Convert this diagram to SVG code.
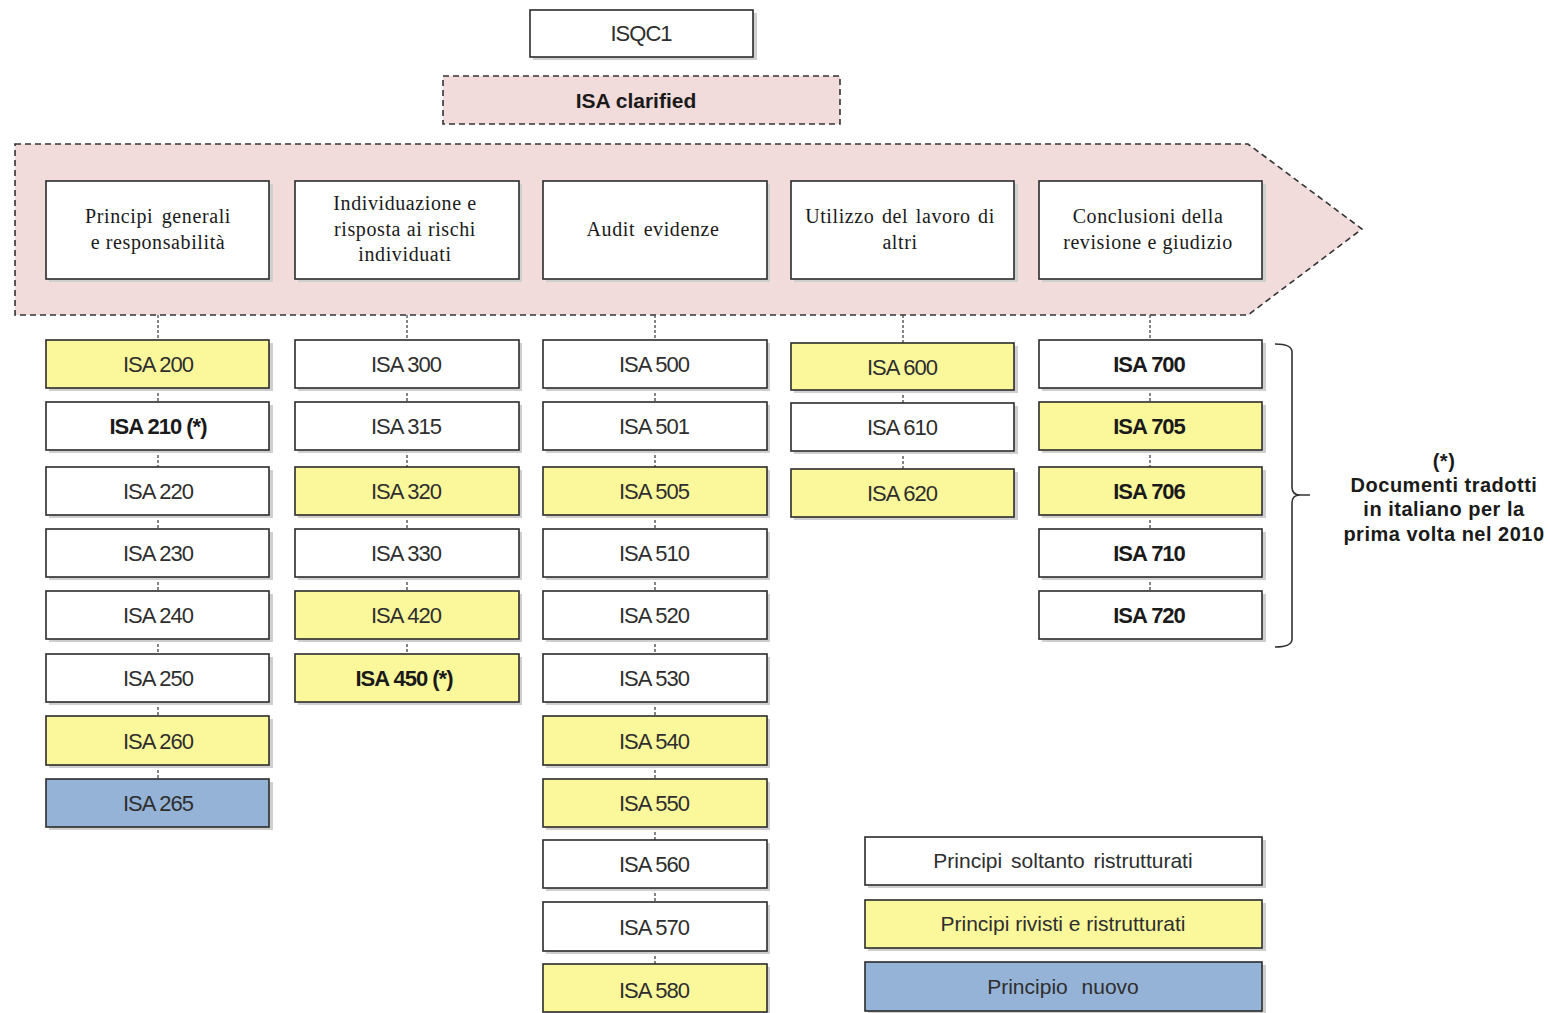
<svg xmlns="http://www.w3.org/2000/svg" width="1550" height="1013" viewBox="0 0 1550 1013">
  <defs>
    <style>
      .box { stroke: #2b2b2b; stroke-width: 1.6; }
      .shadow { fill: #cfcfcf; }
      .w { fill: #ffffff; }
      .y { fill: #fbf89c; }
      .b { fill: #95b3d7; }
      .pink { fill: #f2dcdb; stroke: #333; stroke-width: 1.6; stroke-dasharray: 6 4; }
      .isa { font-family: "Liberation Sans", Arial, sans-serif; font-size: 22px; fill: #2e2e2e; text-anchor: middle; letter-spacing: -1px; }
      .bold { font-weight: bold; fill: #1a1a1a; }
      .hdr { font-family: "Liberation Serif", "Times New Roman", serif; font-size: 20px; fill: #1a1a1a; text-anchor: middle; letter-spacing: 0.6px; }
      .note { font-family: "Liberation Sans", Arial, sans-serif; font-size: 20px; font-weight: bold; fill: #1a1a1a; text-anchor: middle; letter-spacing: 0.5px; }
      .legend { font-family: "Liberation Sans", Arial, sans-serif; font-size: 21px; fill: #2e2e2e; text-anchor: middle; }
      .conn { stroke: #444; stroke-width: 1.3; stroke-dasharray: 3 2; fill: none; }
    </style>
  </defs>

  <rect width="1550" height="1013" fill="#ffffff"/>

  <!-- top nodes -->
  <g id="isqc1">
    <rect class="shadow" x="533" y="13" width="224" height="47"/>
    <rect class="box w" x="530" y="10" width="223" height="47"/>
    <text class="isa" x="641" y="41">ISQC1</text>
  </g>
  <g id="isa-clarified">
    <rect class="pink" x="443" y="76" width="397" height="48"/>
    <text class="isa bold" x="636" y="108" style="font-size:21px;letter-spacing:0">ISA clarified</text>
  </g>

  <!-- process band -->
  <g id="band">
    <path class="pink" d="M15 144 L1248 144 L1362 229 L1248 315 L15 315 Z"/>
  </g>

  <!-- connectors -->
  <g id="connectors">
    <line class="conn" x1="158" y1="315" x2="158" y2="340"/>
    <line class="conn" x1="158" y1="388" x2="158" y2="402"/>
    <line class="conn" x1="158" y1="450" x2="158" y2="467"/>
    <line class="conn" x1="158" y1="515" x2="158" y2="529"/>
    <line class="conn" x1="158" y1="577" x2="158" y2="591"/>
    <line class="conn" x1="158" y1="639" x2="158" y2="654"/>
    <line class="conn" x1="158" y1="702" x2="158" y2="716"/>
    <line class="conn" x1="158" y1="765" x2="158" y2="779"/>

    <line class="conn" x1="407" y1="315" x2="407" y2="340"/>
    <line class="conn" x1="407" y1="388" x2="407" y2="402"/>
    <line class="conn" x1="407" y1="450" x2="407" y2="467"/>
    <line class="conn" x1="407" y1="515" x2="407" y2="529"/>
    <line class="conn" x1="407" y1="577" x2="407" y2="591"/>
    <line class="conn" x1="407" y1="639" x2="407" y2="654"/>

    <line class="conn" x1="655" y1="315" x2="655" y2="340"/>
    <line class="conn" x1="655" y1="388" x2="655" y2="402"/>
    <line class="conn" x1="655" y1="450" x2="655" y2="467"/>
    <line class="conn" x1="655" y1="515" x2="655" y2="529"/>
    <line class="conn" x1="655" y1="577" x2="655" y2="591"/>
    <line class="conn" x1="655" y1="639" x2="655" y2="654"/>
    <line class="conn" x1="655" y1="702" x2="655" y2="716"/>
    <line class="conn" x1="655" y1="765" x2="655" y2="779"/>
    <line class="conn" x1="655" y1="827" x2="655" y2="840"/>
    <line class="conn" x1="655" y1="888" x2="655" y2="902"/>
    <line class="conn" x1="655" y1="951" x2="655" y2="964"/>

    <line class="conn" x1="903" y1="315" x2="903" y2="343"/>
    <line class="conn" x1="903" y1="390" x2="903" y2="403"/>
    <line class="conn" x1="903" y1="451" x2="903" y2="469"/>

    <line class="conn" x1="1150" y1="315" x2="1150" y2="340"/>
    <line class="conn" x1="1150" y1="388" x2="1150" y2="402"/>
    <line class="conn" x1="1150" y1="450" x2="1150" y2="467"/>
    <line class="conn" x1="1150" y1="515" x2="1150" y2="529"/>
    <line class="conn" x1="1150" y1="577" x2="1150" y2="591"/>
  </g>

  <!-- phase headers -->
  <g id="hdr-principi">
    <rect class="shadow" x="49" y="184" width="224" height="98"/>
    <rect class="box w" x="46" y="181" width="223" height="98"/>
    <text class="hdr" x="158" y="223" style="word-spacing:3px">Principi generali</text>
    <text class="hdr" x="158" y="249">e responsabilità</text>
  </g>
  <g id="hdr-rischi">
    <rect class="shadow" x="298" y="184" width="224" height="98"/>
    <rect class="box w" x="295" y="181" width="224" height="98"/>
    <text class="hdr" x="405" y="210">Individuazione e</text>
    <text class="hdr" x="405" y="236">risposta ai rischi</text>
    <text class="hdr" x="405" y="261">individuati</text>
  </g>
  <g id="hdr-evidenze">
    <rect class="shadow" x="546" y="184" width="224" height="98"/>
    <rect class="box w" x="543" y="181" width="224" height="98"/>
    <text class="hdr" x="653" y="236" style="word-spacing:3px">Audit evidenze</text>
  </g>
  <g id="hdr-altri">
    <rect class="shadow" x="794" y="184" width="224" height="98"/>
    <rect class="box w" x="791" y="181" width="223" height="98"/>
    <text class="hdr" x="900" y="223" style="word-spacing:2px">Utilizzo del lavoro di</text>
    <text class="hdr" x="900" y="249">altri</text>
  </g>
  <g id="hdr-conclusioni">
    <rect class="shadow" x="1042" y="184" width="224" height="98"/>
    <rect class="box w" x="1039" y="181" width="223" height="98"/>
    <text class="hdr" x="1148" y="223">Conclusioni della</text>
    <text class="hdr" x="1148" y="249">revisione e giudizio</text>
  </g>

  <!-- column 1 -->
  <g id="isa200"><rect class="shadow" x="49" y="343" width="224" height="48"/><rect class="box y" x="46" y="340" width="223" height="48"/><text class="isa" x="158" y="372">ISA 200</text></g>
  <g id="isa210"><rect class="shadow" x="49" y="405" width="224" height="48"/><rect class="box w" x="46" y="402" width="223" height="48"/><text class="isa bold" x="158" y="434">ISA 210  (*)</text></g>
  <g id="isa220"><rect class="shadow" x="49" y="470" width="224" height="48"/><rect class="box w" x="46" y="467" width="223" height="48"/><text class="isa" x="158" y="499">ISA 220</text></g>
  <g id="isa230"><rect class="shadow" x="49" y="532" width="224" height="48"/><rect class="box w" x="46" y="529" width="223" height="48"/><text class="isa" x="158" y="561">ISA 230</text></g>
  <g id="isa240"><rect class="shadow" x="49" y="594" width="224" height="48"/><rect class="box w" x="46" y="591" width="223" height="48"/><text class="isa" x="158" y="623">ISA 240</text></g>
  <g id="isa250"><rect class="shadow" x="49" y="657" width="224" height="48"/><rect class="box w" x="46" y="654" width="223" height="48"/><text class="isa" x="158" y="686">ISA 250</text></g>
  <g id="isa260"><rect class="shadow" x="49" y="719" width="224" height="49"/><rect class="box y" x="46" y="716" width="223" height="49"/><text class="isa" x="158" y="749">ISA 260</text></g>
  <g id="isa265"><rect class="shadow" x="49" y="782" width="224" height="48"/><rect class="box b" x="46" y="779" width="223" height="48"/><text class="isa" x="158" y="811">ISA 265</text></g>

  <!-- column 2 -->
  <g id="isa300"><rect class="shadow" x="298" y="343" width="224" height="48"/><rect class="box w" x="295" y="340" width="224" height="48"/><text class="isa" x="406" y="372">ISA 300</text></g>
  <g id="isa315"><rect class="shadow" x="298" y="405" width="224" height="48"/><rect class="box w" x="295" y="402" width="224" height="48"/><text class="isa" x="406" y="434">ISA 315</text></g>
  <g id="isa320"><rect class="shadow" x="298" y="470" width="224" height="48"/><rect class="box y" x="295" y="467" width="224" height="48"/><text class="isa" x="406" y="499">ISA 320</text></g>
  <g id="isa330"><rect class="shadow" x="298" y="532" width="224" height="48"/><rect class="box w" x="295" y="529" width="224" height="48"/><text class="isa" x="406" y="561">ISA 330</text></g>
  <g id="isa420"><rect class="shadow" x="298" y="594" width="224" height="48"/><rect class="box y" x="295" y="591" width="224" height="48"/><text class="isa" x="406" y="623">ISA 420</text></g>
  <g id="isa450"><rect class="shadow" x="298" y="657" width="224" height="48"/><rect class="box y" x="295" y="654" width="224" height="48"/><text class="isa bold" x="404" y="686">ISA 450  (*)</text></g>

  <!-- column 3 -->
  <g id="isa500"><rect class="shadow" x="546" y="343" width="224" height="48"/><rect class="box w" x="543" y="340" width="224" height="48"/><text class="isa" x="654" y="372">ISA 500</text></g>
  <g id="isa501"><rect class="shadow" x="546" y="405" width="224" height="48"/><rect class="box w" x="543" y="402" width="224" height="48"/><text class="isa" x="654" y="434">ISA 501</text></g>
  <g id="isa505"><rect class="shadow" x="546" y="470" width="224" height="48"/><rect class="box y" x="543" y="467" width="224" height="48"/><text class="isa" x="654" y="499">ISA 505</text></g>
  <g id="isa510"><rect class="shadow" x="546" y="532" width="224" height="48"/><rect class="box w" x="543" y="529" width="224" height="48"/><text class="isa" x="654" y="561">ISA 510</text></g>
  <g id="isa520"><rect class="shadow" x="546" y="594" width="224" height="48"/><rect class="box w" x="543" y="591" width="224" height="48"/><text class="isa" x="654" y="623">ISA 520</text></g>
  <g id="isa530"><rect class="shadow" x="546" y="657" width="224" height="48"/><rect class="box w" x="543" y="654" width="224" height="48"/><text class="isa" x="654" y="686">ISA 530</text></g>
  <g id="isa540"><rect class="shadow" x="546" y="719" width="224" height="49"/><rect class="box y" x="543" y="716" width="224" height="49"/><text class="isa" x="654" y="749">ISA 540</text></g>
  <g id="isa550"><rect class="shadow" x="546" y="782" width="224" height="48"/><rect class="box y" x="543" y="779" width="224" height="48"/><text class="isa" x="654" y="811">ISA 550</text></g>
  <g id="isa560"><rect class="shadow" x="546" y="843" width="224" height="48"/><rect class="box w" x="543" y="840" width="224" height="48"/><text class="isa" x="654" y="872">ISA 560</text></g>
  <g id="isa570"><rect class="shadow" x="546" y="905" width="224" height="49"/><rect class="box w" x="543" y="902" width="224" height="49"/><text class="isa" x="654" y="935">ISA 570</text></g>
  <g id="isa580"><rect class="shadow" x="546" y="967" width="224" height="48"/><rect class="box y" x="543" y="964" width="224" height="48"/><text class="isa" x="654" y="998">ISA 580</text></g>

  <!-- column 4 -->
  <g id="isa600"><rect class="shadow" x="794" y="346" width="224" height="47"/><rect class="box y" x="791" y="343" width="223" height="47"/><text class="isa" x="902" y="375">ISA 600</text></g>
  <g id="isa610"><rect class="shadow" x="794" y="406" width="224" height="48"/><rect class="box w" x="791" y="403" width="223" height="48"/><text class="isa" x="902" y="435">ISA 610</text></g>
  <g id="isa620"><rect class="shadow" x="794" y="472" width="224" height="48"/><rect class="box y" x="791" y="469" width="223" height="48"/><text class="isa" x="902" y="501">ISA 620</text></g>

  <!-- column 5 -->
  <g id="isa700"><rect class="shadow" x="1042" y="343" width="224" height="48"/><rect class="box w" x="1039" y="340" width="223" height="48"/><text class="isa bold" x="1149" y="372">ISA 700</text></g>
  <g id="isa705"><rect class="shadow" x="1042" y="405" width="224" height="48"/><rect class="box y" x="1039" y="402" width="223" height="48"/><text class="isa bold" x="1149" y="434">ISA 705</text></g>
  <g id="isa706"><rect class="shadow" x="1042" y="470" width="224" height="48"/><rect class="box y" x="1039" y="467" width="223" height="48"/><text class="isa bold" x="1149" y="499">ISA 706</text></g>
  <g id="isa710"><rect class="shadow" x="1042" y="532" width="224" height="48"/><rect class="box w" x="1039" y="529" width="223" height="48"/><text class="isa bold" x="1149" y="561">ISA 710</text></g>
  <g id="isa720"><rect class="shadow" x="1042" y="594" width="224" height="48"/><rect class="box w" x="1039" y="591" width="223" height="48"/><text class="isa bold" x="1149" y="623">ISA 720</text></g>

  <!-- bracket and footnote -->
  <g id="footnote">
    <path d="M1275 344 Q1292 344 1292 352 L1292 487 Q1292 495 1300 495 L1310 495 M1300 495 Q1292 495 1292 503 L1292 639 Q1292 647 1275 647" fill="none" stroke="#333" stroke-width="1.6"/>
    <text class="note" x="1444" y="468">(*)</text>
    <text class="note" x="1444" y="492">Documenti tradotti</text>
    <text class="note" x="1444" y="516">in italiano per la</text>
    <text class="note" x="1444" y="541">prima volta nel 2010</text>
  </g>

  <!-- legend -->
  <g id="legend-ristrutturati">
    <rect class="shadow" x="868" y="840" width="398" height="48"/>
    <rect class="box w" x="865" y="837" width="397" height="48"/>
    <text class="legend" x="1063" y="868" style="word-spacing:3px">Principi  soltanto ristrutturati</text>
  </g>
  <g id="legend-rivisti">
    <rect class="shadow" x="868" y="903" width="398" height="48"/>
    <rect class="box y" x="865" y="900" width="397" height="48"/>
    <text class="legend" x="1063" y="931">Principi rivisti e ristrutturati</text>
  </g>
  <g id="legend-nuovo">
    <rect class="shadow" x="868" y="965" width="398" height="48"/>
    <rect class="box b" x="865" y="962" width="397" height="49"/>
    <text class="legend" x="1063" y="994" style="word-spacing:8px">Principio nuovo</text>
  </g>
</svg>
